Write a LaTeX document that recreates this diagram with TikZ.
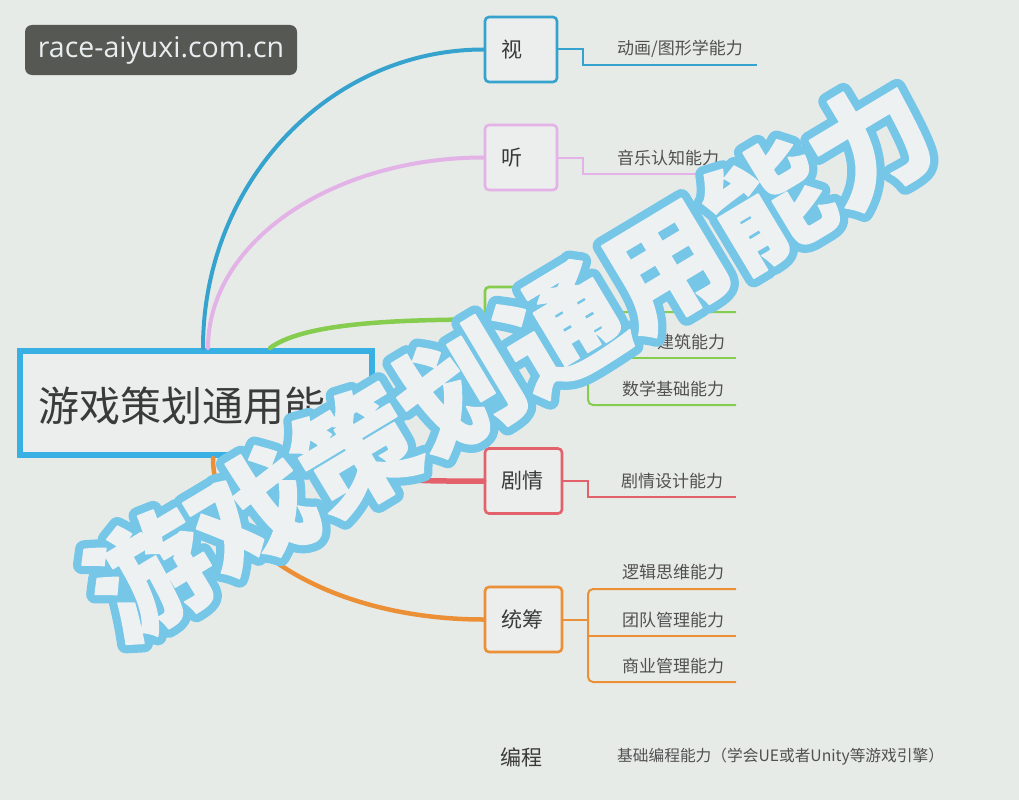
\documentclass[tikz,border=0pt]{standalone}
\usepackage{fontspec}
\setmainfont{Noto Sans CJK SC}
\newfontfamily\cjkfont{Noto Sans CJK SC}
\newfontfamily\ovlfontfam{Noto Sans CJK SC Black}
\newfontfamily\wmfont{Open Sans}
\usetikzlibrary{calc}
\definecolor{bg}{HTML}{E7EBE8}
\definecolor{wmbg}{HTML}{565953}
\definecolor{wmtext}{HTML}{E8EEF0}
\definecolor{rootblue}{HTML}{39B0E4}
\definecolor{boxfill}{HTML}{EBEEED}
\definecolor{vblue}{HTML}{35A3CD}
\definecolor{pinkc}{HTML}{E3B2E6}
\definecolor{greenc}{HTML}{86CC4E}
\definecolor{redc}{HTML}{E2616A}
\definecolor{orangec}{HTML}{EC9038}
\definecolor{txt}{HTML}{3A3A3A}
\definecolor{subtxt}{HTML}{505050}
\definecolor{ovlblue}{HTML}{76C6E8}
\definecolor{ovlfill}{HTML}{EDF1F1}
\newcommand\outlinetext[1]{\special{pdf:literal direct 2 Tr 1 j 1 J 18 w 0.463 0.776 0.91 RG}#1\special{pdf:literal direct 0 Tr}}
\newcommand\filltext[1]{\special{pdf:literal direct 2 Tr 1 j 1 J 1.5 w 0.929 0.945 0.945 RG}#1\special{pdf:literal direct 0 Tr}}
\tikzset{
  bbox/.style={draw, line width=2.6pt, rounded corners=4pt, fill=boxfill, minimum height=65pt,
    inner xsep=16pt, inner ysep=0pt, align=left, text=txt, font=\fontsize{21}{24}\selectfont},
  subtext/.style={anchor=west, inner sep=0pt, text=subtxt, font=\fontsize{17}{20}\selectfont},
  mainline/.style={line width=4pt, line cap=round},
  subline/.style={line width=2pt},
}
\begin{document}
\begin{tikzpicture}[x=1pt,y=-1pt]
\useasboundingbox[fill=bg] (0,0) rectangle (1019,800);

% watermark badge
\node[fill=wmbg, rounded corners=7pt, minimum width=272pt, minimum height=50pt, inner sep=0pt,
      text=wmtext, font=\wmfont\fontsize{28.5}{32}\selectfont] (wm) at (161,50) {race-aiyuxi.com.cn};

% root
\node[draw=rootblue, line width=6pt, fill=boxfill, minimum width=352pt, minimum height=104pt, inner sep=0pt] (root) at (196,403) {};
\node[anchor=west, inner sep=0pt, text=txt, font=\fontsize{41}{46}\selectfont] (roottext) at (38,406) {游戏策划通用能力};

% branch boxes
\node[bbox, draw=vblue, text width=40pt] (v) at (521,49.5) {视};
\node[bbox, draw=pinkc, text width=40pt] (t) at (521,157.5) {听};
\node[bbox, draw=greenc, text width=40pt] (g) at (521,319.5) {};
\node[bbox, draw=redc, text width=45pt] (j) at (523.5,481) {剧情};
\node[bbox, draw=orangec, text width=45pt] (c) at (523.5,619.5) {统筹};
\node[inner sep=0pt, text=txt, font=\fontsize{21}{24}\selectfont] (b) at (521,757) {编程};

% main curves
\draw[mainline, vblue] ([xshift=7pt]root.north) .. controls +(0,-165) and +(-155,0) .. (v.west);
\draw[mainline, pinkc] ([xshift=12pt]root.north) .. controls +(0,-107) and +(-150,0) .. (t.west);
\draw[mainline, greenc, line width=4.5pt] ([xshift=74pt]root.north) .. controls +(30,-22) and +(-110,0) .. (g.west);
\draw[mainline, redc, line width=5.5pt] ([xshift=150pt]root.south) .. controls +(20,25) and +(-60,0) .. (j.west);
\draw[mainline, orangec, line width=4.5pt] ([xshift=17pt]root.south) .. controls +(0,90) and +(-150,0) .. (c.west);

% sub-branch ends
\coordinate (v1) at (757,65);
\coordinate (t1) at (736,174);
\coordinate (g1) at (736,312);
\coordinate (g2) at (736,358);
\coordinate (g3) at (736,405);
\coordinate (gb) at (588,358);
\coordinate (j1) at (736,497);
\coordinate (c1) at (736,589);
\coordinate (c2) at (736,636);
\coordinate (c3) at (736,682);
\coordinate (cb) at (588,636);

\draw[subline, vblue] (v.east) -- ++(25,0) |- (v1);
\draw[subline, pinkc] (t.east) -- ++(25,0) |- (t1);
\draw[subline, greenc, rounded corners=5pt] (g1) -| (gb) |- (g3);
\draw[subline, greenc] (gb) -- (g2);
\draw[subline, greenc] (g.east) -- (gb |- g.east);
\draw[subline, redc] (j.east) -- ++(25,0) |- (j1);
\draw[subline, orangec, rounded corners=5pt] (c1) -| (cb) |- (c3);
\draw[subline, orangec] (cb) -- (c2);
\draw[subline, orangec] (c.east) -- (cb |- c.east);

% sub texts
\node[subtext] (v1t) at (617,49) {动画/图形学能力};
\node[subtext] (t1t) at (617,158) {音乐认知能力};
\node[subtext] (g2t) at (657,342) {建筑能力};
\node[subtext] (g3t) at (622,389) {数学基础能力};
\node[subtext] (j1t) at (621,481) {剧情设计能力};
\node[subtext] (c1t) at (622,572) {逻辑思维能力};
\node[subtext] (c2t) at (622,620) {团队管理能力};
\node[subtext] (c3t) at (622,666) {商业管理能力};
\node[subtext, font=\fontsize{15.7}{18}\selectfont] (b1t) at (617,757) {基础编程能力（学会UE或者Unity等游戏引擎）};

% overlay title
\node[rotate=31, inner sep=0pt, text=ovlblue, font=\ovlfontfam\fontsize{120}{122}\selectfont] (ovla) at (510,358) {\outlinetext{游戏策划通用能力}};
\node[rotate=31, inner sep=0pt, text=ovlfill, font=\ovlfontfam\fontsize{120}{122}\selectfont] (ovlb) at (510,358) {\filltext{游戏策划通用能力}};
\end{tikzpicture}
\end{document}
